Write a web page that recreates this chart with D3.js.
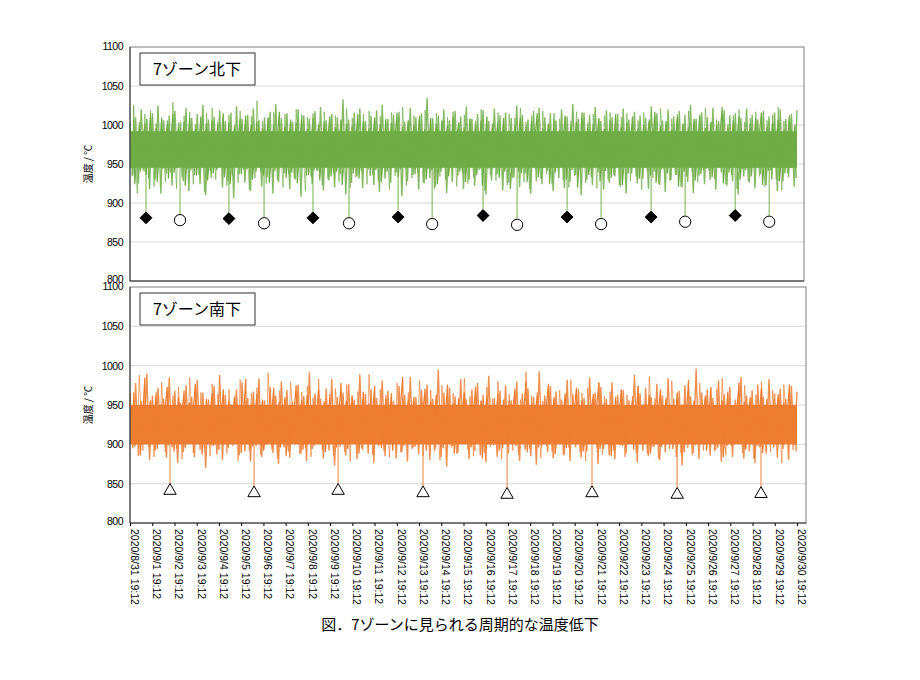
<!DOCTYPE html>
<html><head><meta charset="utf-8">
<script src="https://cdn.jsdelivr.net/npm/d3@7"></script>
<style>body{margin:0;background:#fff}</style></head>
<body><svg id="c" width="920" height="680"></svg>
<script>
const tickLabels = d3.range(0,31).map(i=>{const d=new Date(2020,7,31+i);return `${d.getFullYear()}/${d.getMonth()+1}/${d.getDate()} 19:12`;});
const yTicks = [800,850,900,950,1000,1050,1100];
const northHi=[1003,1010,1020,1008,1015,1025,1006,1012,1018,1004,1022,1009,1014,1026,1007,1011,1019,1005,1016,1024,1008,1013,1021,1006,1010,1017,1027,1009,1015,1004,1020,1012,1008,1018,1023,1006,1014,1010,1033,1007,1016,1021,1005,1012,1019,1026,1008,1013,1017,1004,1022,1010,1015,1035,1009,1012,1020,1006,1018,1011,1024,1008,1014,1019,1005,1021,1012,1016,1009,1025,1013,1007,1018,1022,1010,1015,1006,1020,1011,1027,1008,1016,1013,1023,1005,1019,1010,1014,1021,1007,1017,1012,1009,1024,1015,1006,1020,1011,1018,1013,1026,1008,1016,1010,1022,1005,1019,1012,1015,1009,1021,1013,1007,1018,1011,1016,1020,1008,1014,1019];
const northLo=[935,925,940,918,930,912,938,922,945,928,915,936,924,910,932,942,920,928,906,937,926,915,940,921,933,912,927,938,918,930,908,935,924,941,916,929,920,937,911,926,934,919,943,923,914,931,926,939,909,928,936,917,925,932,921,940,913,927,935,918,930,922,944,911,929,937,916,926,933,920,938,912,928,924,941,915,932,919,927,936,910,930,923,939,917,926,934,921,912,938,925,931,918,940,923,914,929,936,920,927,913,935,924,930,917,939,922,928,911,934,926,919,937,923,930,915,928,933,921,936];
const southHi=[965,978,955,990,962,972,958,985,968,953,975,960,982,966,957,974,988,963,951,970,979,959,967,984,956,973,962,980,969,954,976,961,992,965,958,971,983,960,966,977,957,989,964,970,959,981,968,955,974,963,986,960,969,976,958,995,966,972,961,983,957,970,978,963,987,959,968,975,956,980,965,971,960,993,962,974,967,957,982,964,970,959,985,966,973,958,979,963,969,956,988,965,972,960,977,962,984,958,968,975,961,996,966,970,959,981,964,973,957,986,962,969,976,960,983,965,971,958,974,967];
const southLo=[895,885,900,880,892,905,883,896,876,890,902,884,893,870,899,887,880,895,903,886,891,878,898,884,906,889,875,896,883,900,888,879,894,904,882,892,873,897,886,901,881,893,888,876,899,885,903,882,890,878,896,887,901,880,894,884,872,898,889,903,881,892,886,877,900,884,895,888,902,879,893,885,874,898,890,882,904,887,879,896,883,891,900,875,894,886,881,899,888,903,877,892,885,897,880,890,902,884,873,896,889,881,900,886,893,878,898,884,905,882,891,876,897,888,901,883,894,880,899,886];
const diamondDay=[0.72,4.45,8.23,12.06,15.88,19.66,23.44,27.22];
const diamondVal=[881,880,881,882,884,882,882,884];
const circleDay=[2.25,6.03,9.85,13.59,17.41,21.19,24.97,28.75];
const circleVal=[878,874,874,873,872,873,876,876];
const triDay=[1.80,5.58,9.36,13.18,16.96,20.78,24.61,28.38];
const triVal=[841,838,841,838,836,838,836,837];

const svg=d3.select('#c');
const x=d3.scaleLinear().domain([0,30]).range([130,797]);
const panels=[
 {top:47,bot:281,right:804,title:'7ゾーン北下',hi:northHi,lo:northLo,col:'#70ad47',core:[945,992],
  dips:[...diamondDay.map((d,i)=>({d,v:diamondVal[i],s:'diamond'})),...circleDay.map((d,i)=>({d,v:circleVal[i],s:'circle'}))]},
 {top:287,bot:523,right:806,title:'7ゾーン南下',hi:southHi,lo:southLo,col:'#ed7d31',core:[900,950],
  dips:triDay.map((d,i)=>({d,v:triVal[i],s:'triangle'}))}
];
panels.forEach(p=>{
  const y=d3.scaleLinear().domain([800,1100]).range([p.bot,p.top]);
  const g=svg.append('g');
  g.selectAll('line.grid').data(yTicks.filter(t=>t>800&&t<1100)).join('line')
   .attr('x1',130).attr('x2',p.right).attr('y1',d=>y(d)).attr('y2',d=>y(d)).attr('stroke','#d9d9d9');
  const n=Math.min(p.hi.length,p.lo.length);
  const step=30/(n-1);
  const pts=[];
  for(let i=0;i<n;i++){const t=i*step;pts.push([x(t),y(p.hi[i])]);if(i<n-1)pts.push([x(t+step/2),y(p.lo[i])]);}
  g.append('rect').attr('x',x(0)).attr('width',x(30)-x(0)).attr('y',y(p.core[1])).attr('height',y(p.core[0])-y(p.core[1])).attr('fill',p.col);
  g.append('path').attr('d',d3.line()(pts)).attr('fill','none').attr('stroke',p.col).attr('stroke-width',1.4).attr('opacity',0.85);
  const pts2=[];
  for(let i=0;i<n-1;i++){const t=(i+0.3)*step;pts2.push([x(t),y(p.lo[(i+17)%n]+6)]);pts2.push([x(t+step*0.35),y(p.hi[(i+31)%n]-4)]);}
  g.append('path').attr('d',d3.line()(pts2)).attr('fill','none').attr('stroke',p.col).attr('stroke-width',0.9).attr('opacity',0.75);
  const pts3=[];
  for(let i=0;i<n-1;i++){const t=(i+0.65)*step;pts3.push([x(t),y(p.hi[(i+53)%n]-10)]);pts3.push([x(t+step*0.2),y(p.lo[(i+71)%n]+12)]);}
  g.append('path').attr('d',d3.line()(pts3)).attr('fill','none').attr('stroke',p.col).attr('stroke-width',1.2);
  g.selectAll('line.dip').data(p.dips).join('line')
   .attr('x1',d=>x(d.d)).attr('x2',d=>x(d.d)).attr('y1',y(p.core[0])).attr('y2',d=>y(d.v+(d.s==='triangle'?9:8)))
   .attr('stroke',p.col).attr('stroke-width',1.2).attr('opacity',0.8);
  g.selectAll('path.m').data(p.dips).join('path')
   .attr('transform',d=>`translate(${x(d.d)},${y(d.v)})`)
   .attr('d',d=>d3.symbol().type(d.s==='diamond'?d3.symbolDiamond2:d.s==='circle'?d3.symbolCircle:d3.symbolTriangle2).size(d.s==='diamond'?90:d.s==='circle'?100:110)())
   .attr('fill',d=>d.s==='diamond'?'#000':'#fff').attr('stroke','#000').attr('stroke-width',1);
  g.append('rect').attr('x',130).attr('y',p.top).attr('width',p.right-130).attr('height',p.bot-p.top).attr('fill','none').attr('stroke','#7f7f7f');
  g.append('line').attr('x1',130).attr('x2',130).attr('y1',p.top).attr('y2',p.bot).attr('stroke','#333');
  g.append('line').attr('x1',130).attr('x2',p.right).attr('y1',p.bot).attr('y2',p.bot).attr('stroke','#333');
  g.selectAll('text.yt').data(yTicks).join('text').attr('x',123).attr('y',d=>y(d)+(d===1100?3:d===800?2:4)).attr('text-anchor','end')
   .attr('font-family','Liberation Sans Narrow, Liberation Sans').attr('font-size',10.5).attr('letter-spacing',-0.5).text(d=>d);
  g.append('rect').attr('x',140).attr('y',p.top+6).attr('width',115).attr('height',32).attr('fill','#fff').attr('stroke','#333');
  g.append('text').attr('x',197).attr('y',p.top+28).attr('text-anchor','middle').attr('font-family','Noto Sans CJK JP').attr('font-size',16).text(p.title);
  g.append('text').attr('transform',`translate(92,${(p.top+p.bot)/2}) rotate(-90)`).attr('text-anchor','middle')
   .attr('font-family','Noto Sans CJK JP').attr('font-size',10).text('温度 / ℃');
});
const ax=svg.append('g').attr('transform','translate(0,523)').call(d3.axisBottom(x).tickValues(d3.range(0,31)).tickSize(3).tickFormat((d,i)=>tickLabels[i]));
ax.select('.domain').remove();
ax.selectAll('text').attr('transform','rotate(90)').attr('text-anchor','start').attr('x',6).attr('y',-4).attr('dy','0.35em')
  .attr('font-family','Liberation Sans Narrow, Liberation Sans').attr('font-size',10.5).attr('fill','#000');
svg.append('text').attr('x',460).attr('y',630).attr('text-anchor','middle').attr('font-family','Noto Sans CJK JP').attr('font-size',15).text('図．7ゾーンに見られる周期的な温度低下');
</script></body></html>
